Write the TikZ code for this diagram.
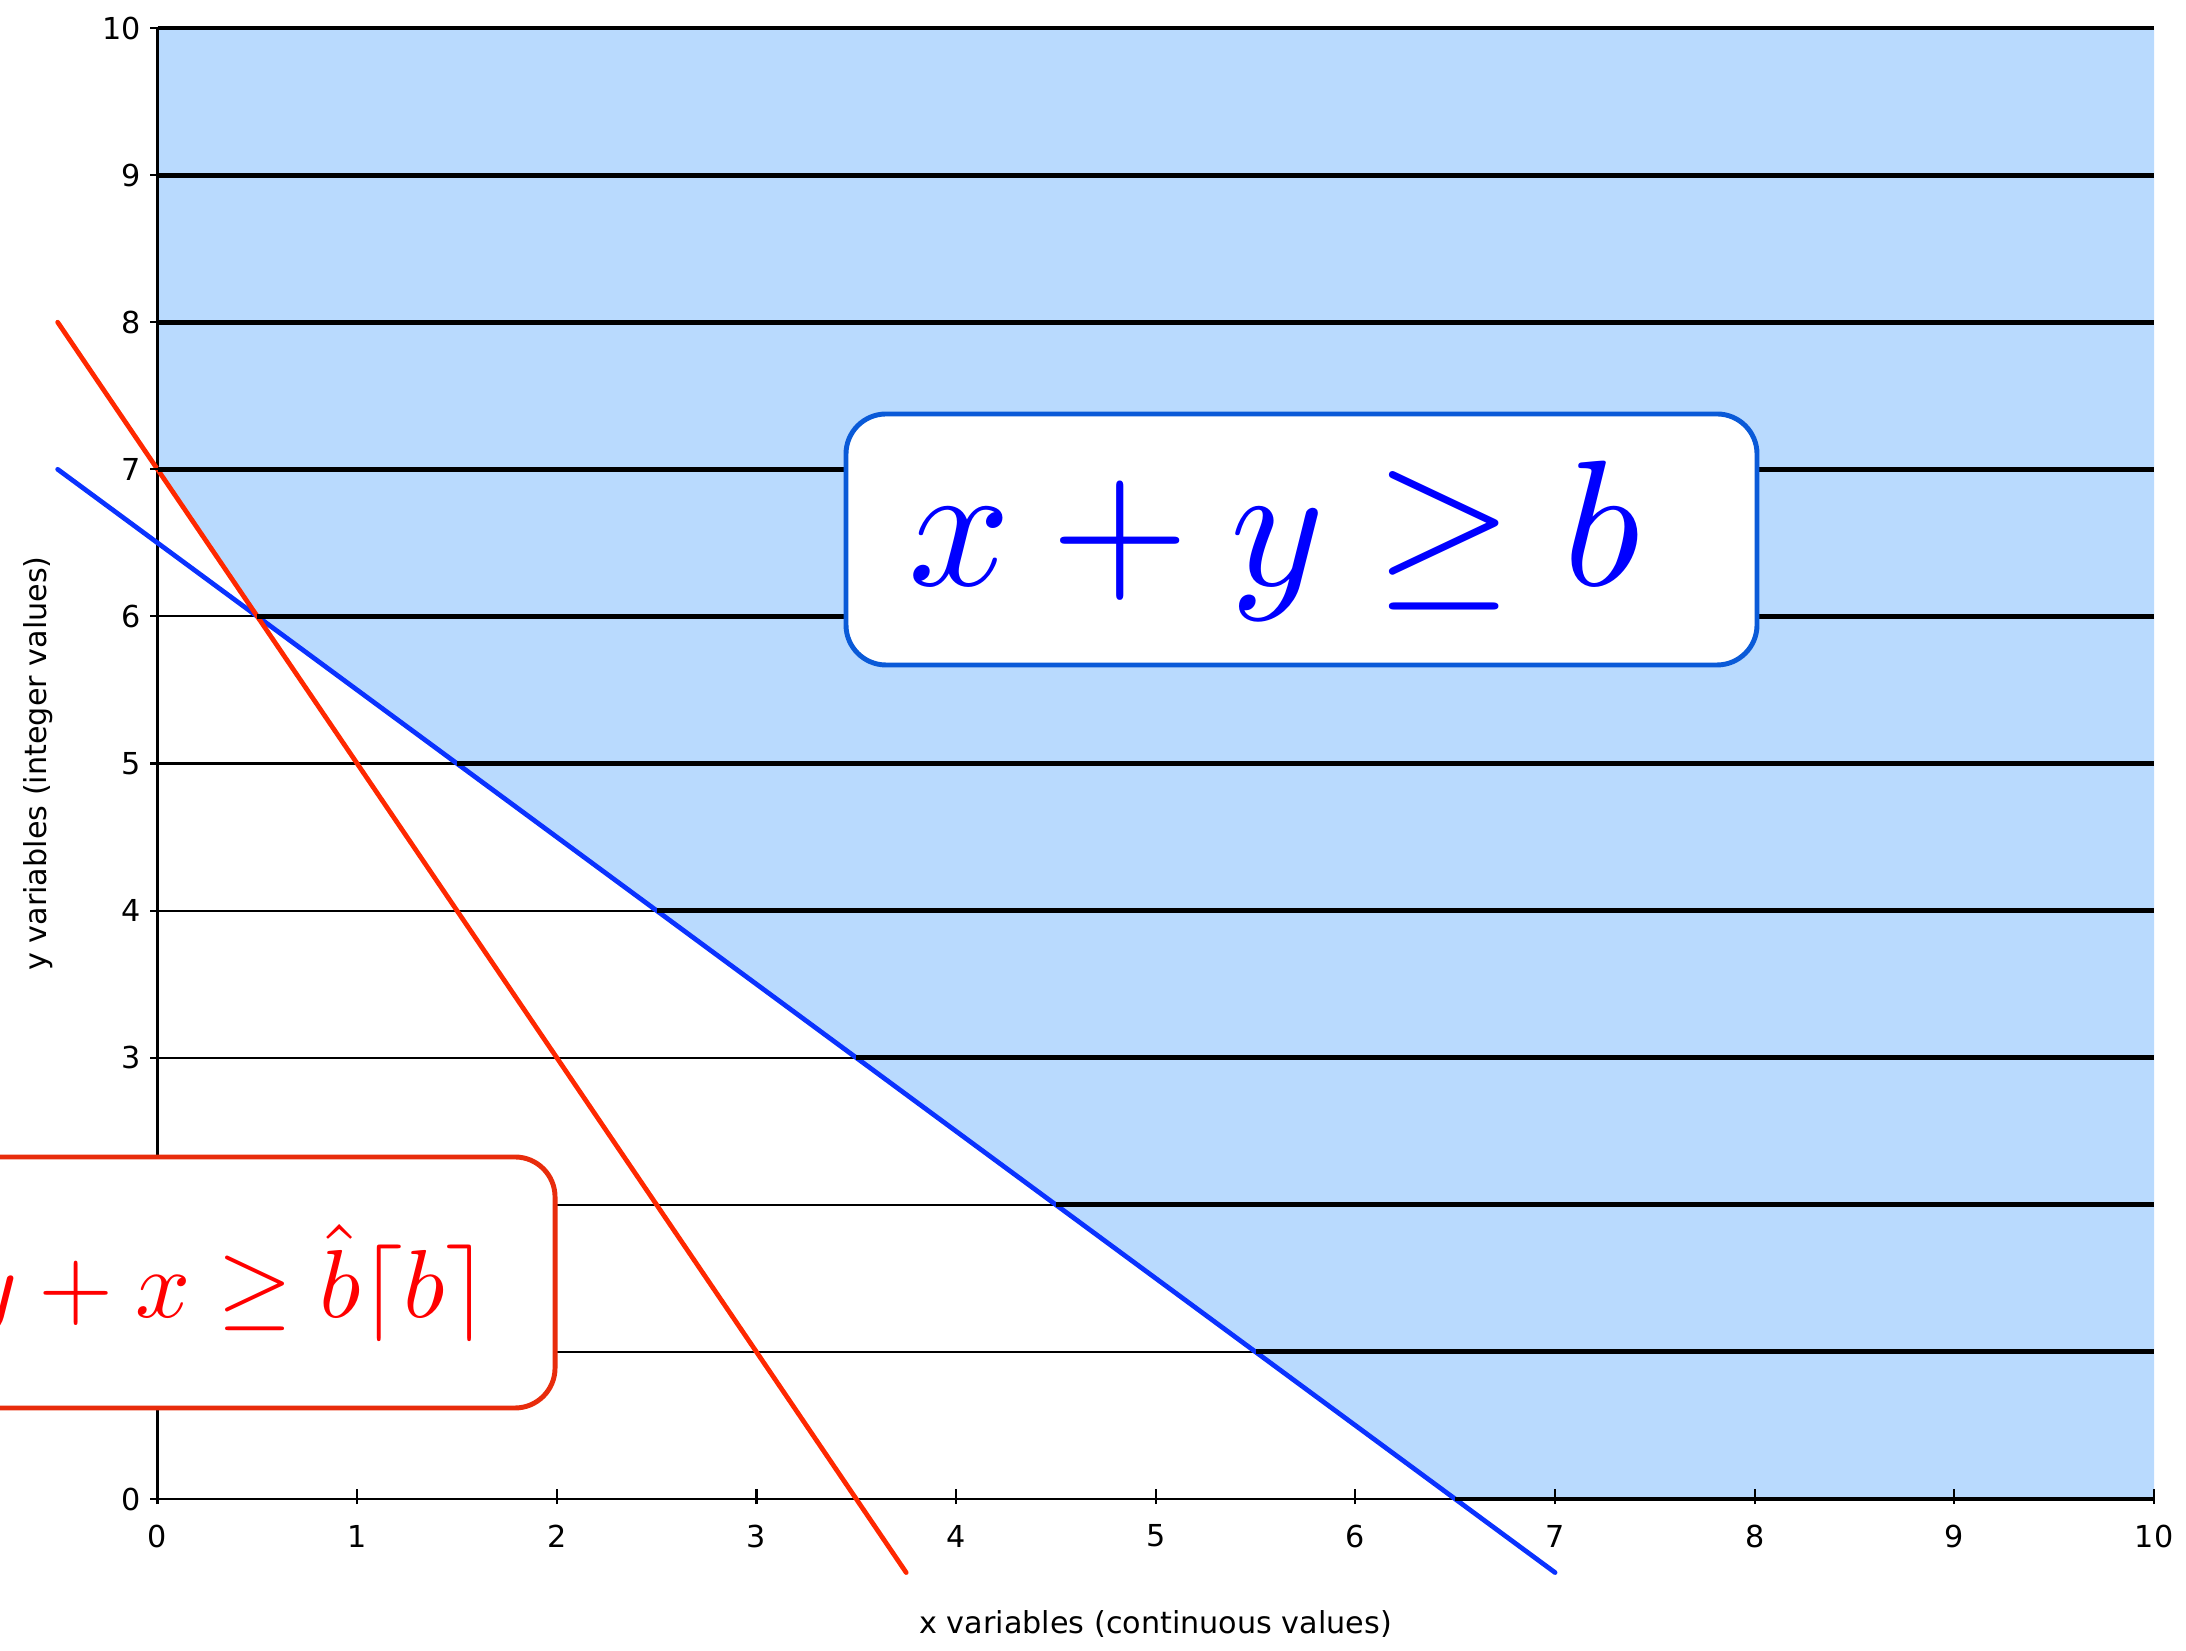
\documentclass[tikz,border=0pt]{standalone}
\usepackage{fontspec}
\setsansfont{DejaVu Sans}
\usepackage{graphicx}
\definecolor{fillblue}{RGB}{185,218,254}
\definecolor{lineblue}{RGB}{10,50,255}
\definecolor{linered}{RGB}{255,40,0}
\definecolor{boxblue}{RGB}{10,90,216}
\definecolor{boxred}{RGB}{232,44,12}
\definecolor{eqblue}{RGB}{0,0,255}
\definecolor{eqred}{RGB}{255,0,0}
\begin{document}
\begin{tikzpicture}[x=1.9965cm,y=1.471cm,
  thinrule/.style={line width=0.6pt, black},
  thickrule/.style={line width=1.4pt, black},
  lbl/.style={font=\sffamily\fontsize{8.6}{10}\selectfont, inner sep=0pt},
  bluecut/.style={line width=1.35pt, draw=lineblue, line cap=round},
  redcut/.style={line width=1.35pt, draw=linered, line cap=round},
  eqbox/.style={rounded corners=0.4cm, fill=white, line width=1.4pt, minimum height=2.51cm, inner sep=0pt},
]
\useasboundingbox (-1.575cm,-1.51cm) rectangle (20.285cm,14.99cm);

% feasible region
\fill[fillblue] (0,10) -- (10,10) -- (10,0) -- (6.5,0) -- (0.5,6) -- (0,7) -- cycle;

% integer levels
\foreach \y in {1,...,6} \draw[thinrule] (0,\y) -- (10,\y);
\draw[thinrule] (0,0) -- (6.5,0);
\draw[thinrule] (0,0) -- (0,10);

% constraint lines
\coordinate (b1) at (-0.5,7);
\coordinate (b2) at (7,-0.5);
\draw[bluecut] (b1) -- (b2);
\coordinate (r1) at (-0.5,8);
\coordinate (r2) at (3.75,-0.5);
\draw[redcut] (r1) -- (r2);

\foreach \y in {0,...,6} {\pgfmathsetmacro\xs{6.5-\y}\draw[thickrule] (\xs,\y) -- (10,\y);}
\foreach \y in {7,...,10} \draw[thickrule] (0,\y) -- (10,\y);

% ticks and labels
\foreach \y in {0,...,10} {
  \draw[thinrule] (0,\y) -- ++(-0.08cm,0);
  \node[lbl,anchor=east] (ylab\y) at ([xshift=-0.16cm]0,\y) {\y};
}
\foreach \x in {0,...,10} {
  \draw[thinrule] ([yshift=-0.05cm]\x,0) -- ([yshift=0.1cm]\x,0);
  \node[lbl] (xlab\x) at ([yshift=-0.37cm]\x,0) {\x};
}
\node[lbl, rotate=90] (ytitle) at ([xshift=-1.195cm]0,5) {y variables (integer values)};
\node[lbl] (xtitle) at ([yshift=-1.25cm]5,0) {x variables (continuous values)};

% equation boxes
\node[eqbox, draw=boxblue, minimum width=9.11cm] (bluebox) at (5.730,6.523) {};
\node[inner sep=0pt, anchor=base west, text=eqblue] (bluetext) at (3.759,6.213) {\scalebox{5.1}{$x+y\geq b$}};
\node[eqbox, draw=boxred, minimum width=6.15cm] (redbox) at (0.451,1.472) {};
\node[inner sep=0pt, anchor=base east, text=eqred] (redtext) at (1.66,1.237) {\scalebox{2.75}{$y+x\geq\hat{b}\lceil b\rceil$}};
\end{tikzpicture}
\end{document}
